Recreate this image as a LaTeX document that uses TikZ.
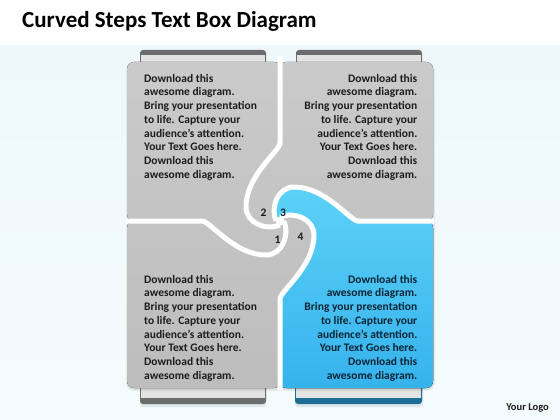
\documentclass[tikz,border=0pt]{standalone}
\usepackage{fontspec}
\setmainfont{Carlito}
\definecolor{bgc}{HTML}{EEF8FB}
\definecolor{bgc2}{HTML}{F4FBFD}
\definecolor{grayT}{HTML}{CACACA}
\definecolor{grayB}{HTML}{BDBDBD}
\definecolor{blueT}{HTML}{5DD3F8}
\definecolor{blueB}{HTML}{36B2EC}
\definecolor{tabdark}{HTML}{6C6C6C}
\definecolor{tablight}{HTML}{E3E3E3}
\definecolor{tabblue}{HTML}{1D6E97}
\definecolor{txt}{HTML}{1C1C1C}
\definecolor{txtb}{HTML}{0B2436}
\tikzset{
  bodytxt/.style={font=\fontsize{11.5}{13.7}\selectfont\bfseries, inner sep=0pt, text=txt},
  numtxt/.style={font=\fontsize{11.5}{13}\selectfont\bfseries, inner sep=0pt, text=txt},
  arm/.style={draw=white, line width=5pt, line cap=round},
}
\begin{document}
\begin{tikzpicture}[x=1pt,y=-1pt]
\useasboundingbox (0,0) rectangle (560,420);
% background
\fill[white] (0,0) rectangle (560,420);
\fill[top color=bgc, bottom color=bgc2] (0,46) rectangle (560,420);
% title
\node[anchor=base west, inner sep=0pt, font=\fontsize{23}{26}\selectfont\bfseries, text=black] (title) at (22,28) {Curved Steps Text Box Diagram};
% logo
\node[anchor=base east, inner sep=0pt, font=\fontsize{10.5}{12}\selectfont\bfseries, text=txt] (logo) at (549,410) {Your Logo};
% tabs top
\fill[tabdark, rounded corners=3] (140,50) rectangle (266,66);
\fill[tablight] (141,55.5) rectangle (265,66);
\fill[tabdark, rounded corners=3] (296,50) rectangle (422,66);
\fill[tablight] (297,55.5) rectangle (421,66);
% tabs bottom
\fill[black, opacity=0.08, rounded corners=3] (140,386) rectangle (266,407);
\fill[black, opacity=0.08, rounded corners=3] (295,386) rectangle (423,407);
\fill[tabdark, rounded corners=3] (140,384) rectangle (266,404);
\fill[tablight] (141,384) rectangle (265,398);
\fill[tabblue, rounded corners=3] (295,384) rectangle (422,404);
\fill[tablight] (296,384) rectangle (421,398);
% soft shadow of boxes
\fill[black, opacity=0.05, rounded corners=8] (126,63) rectangle (435,391);
\fill[black, opacity=0.05, rounded corners=8] (127,63) rectangle (434,390);
% gray boxes
\fill[top color=grayT, bottom color=grayB, rounded corners=7]
  (127,62) rectangle (281,221) (279,62) rectangle (433,221)
  (127,221) rectangle (281,388) (279,221) rectangle (433,388);
% blue piece
\begin{scope}
\clip (276,221) .. controls (270,207) and (278,187) .. (294,187)
  .. controls (326,187) and (350,221) .. (358,221) -- (450,221) -- (450,400)
  -- (280,400) -- (280,299) .. controls (280,291) and (314,267) .. (314,235)
  .. controls (314,219) and (294,211) .. (280,217) -- cycle;
\clip[rounded corners=7]
  (127,62) rectangle (281,221) (279,62) rectangle (433,221)
  (127,221) rectangle (281,388) (279,221) rectangle (433,388);
\fill[top color=blueT, bottom color=blueB] (260,180) rectangle (440,390);
\end{scope}
% white pinwheel arms
\draw[arm, line cap=butt] (434,221) -- (358,221) .. controls (350,221) and (326,187) .. (294,187)
  .. controls (278,187) and (270,207) .. (276,221);
\draw[arm, line cap=butt] (280,56) -- (280,143) .. controls (280,151) and (246,175) .. (246,207)
  .. controls (246,223) and (266,231) .. (280,225);
\draw[arm, line cap=butt] (126,221) -- (202,221) .. controls (210,221) and (234,255) .. (266,255)
  .. controls (282,255) and (290,235) .. (284,221);
\draw[arm, line cap=butt] (280,390) -- (280,299) .. controls (280,291) and (314,267) .. (314,235)
  .. controls (314,219) and (294,211) .. (280,217);
\fill[white] (280,221) circle (4.5);
% numbers
\node[numtxt] (n2) at (263.5,213) {2};
\node[numtxt, text=txtb] (n3) at (283,212.5) {3};
\node[numtxt] (n1) at (277.5,239.5) {1};
\node[numtxt] (n4) at (300.5,236.5) {4};
% texts
\node[bodytxt, align=left, anchor=north west] (tl) at (144,74)
 {Download this\\awesome diagram.\\Bring your presentation\\to life. Capture your\\audience’s attention.\\Your Text Goes here.\\Download this\\awesome diagram.};
\node[bodytxt, align=right, anchor=north east] (tr) at (417.5,74)
 {Download this\\awesome diagram.\\Bring your presentation\\to life. Capture your\\audience’s attention.\\Your Text Goes here.\\Download this\\awesome diagram.};
\node[bodytxt, align=left, anchor=north west] (bl) at (144,275)
 {Download this\\awesome diagram.\\Bring your presentation\\to life. Capture your\\audience’s attention.\\Your Text Goes here.\\Download this\\awesome diagram.};
\node[bodytxt, text=txtb, align=right, anchor=north east] (br) at (417.5,275)
 {Download this\\awesome diagram.\\Bring your presentation\\to life. Capture your\\audience’s attention.\\Your Text Goes here.\\Download this\\awesome diagram.};
\end{tikzpicture}
\end{document}
